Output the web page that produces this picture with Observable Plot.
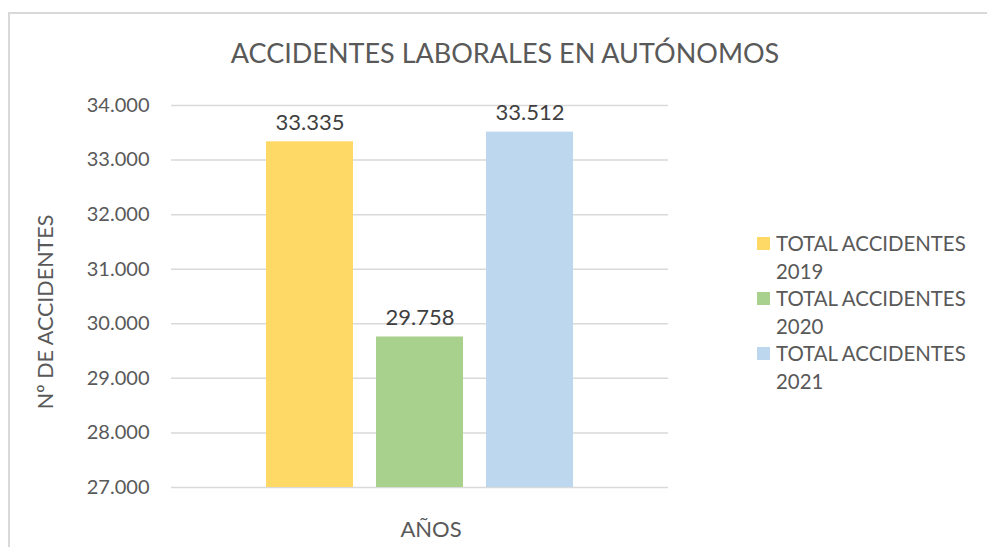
<!DOCTYPE html>
<html>
<head>
<meta charset="utf-8">
<script src="https://cdn.jsdelivr.net/npm/d3@7"></script>
<script src="https://cdn.jsdelivr.net/npm/@observablehq/plot@0.6"></script>
<style>
  body { margin: 0; background: #fff; }
  #wrap { position: relative; width: 987px; height: 547px; overflow: hidden; font-family: Lato, sans-serif; color: #595959; }
  #frame { position: absolute; left: 8px; top: 12px; width: 990px; height: 560px; border-left: 2px solid #d9d9d9; border-top: 2px solid #d9d9d9; }
  #title { position: absolute; left: 0; top: 36px; width: 1010px; text-align: center; font-size: 27px; color: #595959; }
  #ylabel { position: absolute; left: 45px; top: 312px; transform: translate(-50%, -50%) rotate(-90deg); white-space: nowrap; font-size: 21.5px; color: #595959; }
  #xlabel { position: absolute; left: 431px; top: 528px; transform: translate(-50%, -50%); white-space: nowrap; font-size: 22px; color: #595959; }
  #legend { position: absolute; left: 757px; top: 230px; font-size: 20.4px; line-height: 27.5px; color: #595959; }
  .item { position: relative; padding-left: 19px; width: 220px; }
  .sw { position: absolute; left: 0; top: 7px; width: 13px; height: 13px; }
  #chart { position: absolute; left: 0; top: 0; }
</style>
</head>
<body>
<div id="wrap">
  <div id="frame"></div>
  <div id="title"></div>
  <div id="chart"></div>
  <div id="ylabel"></div>
  <div id="xlabel"></div>
  <div id="legend"></div>
</div>
<script>
const title = "ACCIDENTES LABORALES EN AUTÓNOMOS";
const series = ["TOTAL ACCIDENTES 2019", "TOTAL ACCIDENTES 2020", "TOTAL ACCIDENTES 2021"];
const legendLines = [["TOTAL ACCIDENTES", "2019"], ["TOTAL ACCIDENTES", "2020"], ["TOTAL ACCIDENTES", "2021"]];
const values = [33335, 29758, 33512];
const colors = ["#FFD966", "#A9D18E", "#BDD7EE"];
const yTicks = [27000, 28000, 29000, 30000, 31000, 32000, 33000, 34000];
const yLabel = "Nº DE ACCIDENTES";
const xLabel = "AÑOS";

const data = series.map((s, i) => ({series: s, value: values[i]}));
const fmt = d => d3.format(",")(d).replace(/,/g, ".");

document.getElementById("title").textContent = title;
document.getElementById("ylabel").textContent = yLabel;
document.getElementById("xlabel").textContent = xLabel;

const chart = Plot.plot({
  width: 987,
  height: 547,
  marginLeft: 171,
  marginRight: 319,
  marginTop: 105,
  marginBottom: 60,
  style: {fontFamily: "Lato, sans-serif", fontSize: "20px", color: "#595959", background: "transparent"},
  x: {domain: series, paddingInner: 0.21, paddingOuter: 0.86, axis: null},
  y: {domain: [27000, 34000], clamp: true},
  color: {domain: series, range: colors},
  marks: [
    Plot.gridY(yTicks, {stroke: "#d9d9d9", strokeOpacity: 1, strokeWidth: 1.5}),
    Plot.barY(data, {x: "series", y1: 27000, y2: "value", fill: "series"}),
    Plot.text(data, {x: "series", y: "value", text: d => fmt(d.value), dy: -19, fill: "#404040", fontSize: 22}),
    Plot.axisY(yTicks, {tickSize: 0, tickPadding: 22, tickFormat: fmt, fill: "#595959", label: null, fontSize: 20})
  ]
});
document.getElementById("chart").appendChild(chart);

const legend = document.getElementById("legend");
series.forEach((s, i) => {
  const div = document.createElement("div");
  div.className = "item";
  const sw = document.createElement("span");
  sw.className = "sw";
  sw.style.background = colors[i];
  div.appendChild(sw);
  div.appendChild(document.createTextNode(legendLines[i][0]));
  div.appendChild(document.createElement("br"));
  div.appendChild(document.createTextNode(legendLines[i][1]));
  legend.appendChild(div);
});
</script>
</body>
</html>
